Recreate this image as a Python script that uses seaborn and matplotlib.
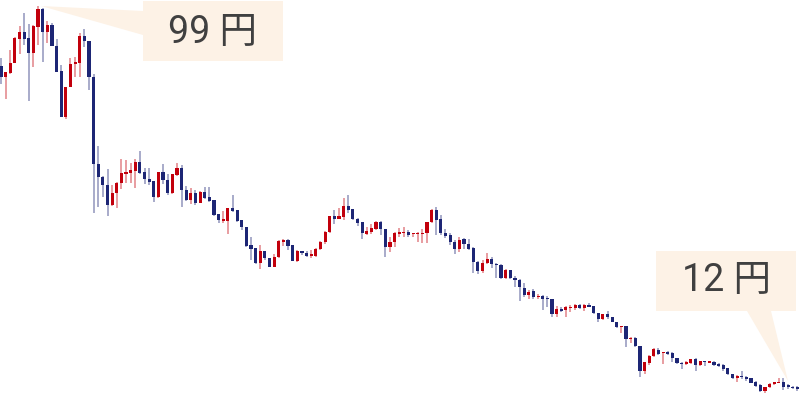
import numpy as np
import pandas as pd
import matplotlib
matplotlib.use("Agg")
import matplotlib.pyplot as plt
import seaborn as sns
from matplotlib.patches import Rectangle, Polygon

# price data (yen), one candle per session
opens = [85.4, 82.9, 83.8, 86.1, 91.5, 93.1, 91.8, 88.3, 94.3, 98.4,
         93.1, 94.7, 89.9, 84.2, 73.8, 80.6, 85.8, 86.1, 92.2, 91.1,
         82.9, 63.1, 60.1, 58.3, 53.8, 56.5, 58.8, 60.8, 61.0, 61.5,
         63.5, 61.3, 59.7, 59.2, 55.6, 61.3, 59.4, 56.5, 60.6, 62.2,
         57.2, 54.9, 56.5, 54.2, 56.7, 55.6, 54.9, 51.7, 50.1, 50.1,
         53.1, 52.6, 50.3, 48.8, 44.7, 44.0, 40.6, 43.3, 41.7, 39.7,
         41.9, 45.3, 45.8, 44.7, 41.0, 43.3, 42.8, 42.2, 42.2, 43.7,
         45.3, 47.6, 51.3, 50.6, 51.0, 53.5, 52.9, 50.6, 49.9, 47.2,
         47.6, 48.3, 49.9, 48.3, 44.2, 45.3, 47.2, 47.4, 47.6, 47.2,
         47.2, 47.2, 47.4, 49.9, 52.6, 50.6, 47.4, 46.9, 45.3, 43.7,
         46.0, 44.9, 44.0, 40.8, 38.7, 40.6, 41.5, 40.3, 40.1, 37.2,
         39.0, 37.2, 36.7, 34.9, 33.3, 34.2, 32.8, 33.1, 32.6, 32.4,
         29.0, 30.1, 29.9, 30.3, 30.3, 31.0, 30.3, 31.0, 30.8, 29.2,
         27.8, 29.0, 28.3, 27.1, 26.0, 26.2, 23.3, 23.5, 21.7, 16.0,
         17.8, 19.4, 20.8, 20.1, 20.3, 20.1, 18.9, 17.8, 17.6, 17.8,
         18.7, 17.4, 18.3, 17.8, 18.0, 17.6, 17.4, 16.7, 15.3, 14.4,
         14.9, 14.6, 14.4, 13.5, 12.8, 11.4, 12.4, 13.0, 13.3, 13.5,
         12.6, 12.4, 12.1]
highs = [87.2, 84.0, 89.0, 92.0, 94.5, 97.4, 94.9, 94.7, 99.0, 98.6,
         95.6, 95.2, 91.5, 85.6, 80.6, 87.2, 87.4, 92.9, 93.8, 91.1,
         83.6, 67.2, 60.4, 62.0, 58.3, 59.0, 64.2, 64.0, 63.3, 64.2,
         66.0, 62.2, 62.2, 59.2, 61.3, 63.1, 60.8, 60.8, 63.3, 62.9,
         58.1, 57.6, 57.2, 56.9, 57.9, 57.9, 54.9, 51.7, 52.4, 53.1,
         56.0, 52.6, 50.3, 48.8, 46.5, 44.0, 44.7, 43.3, 41.7, 42.6,
         45.8, 46.0, 46.0, 44.7, 43.5, 43.3, 43.3, 43.5, 44.0, 45.6,
         47.8, 51.3, 52.6, 53.1, 55.4, 56.0, 52.9, 50.8, 49.9, 48.8,
         49.4, 50.1, 50.1, 48.3, 46.5, 47.6, 48.5, 48.8, 48.1, 47.4,
         47.6, 48.3, 49.9, 52.9, 53.3, 51.5, 48.3, 47.4, 45.8, 46.5,
         46.3, 46.0, 44.2, 41.0, 41.2, 42.8, 41.9, 40.6, 40.3, 39.2,
         39.0, 37.6, 36.9, 36.0, 34.4, 34.7, 33.5, 33.3, 33.1, 32.4,
         30.8, 30.6, 30.8, 31.0, 31.2, 31.2, 31.2, 31.5, 30.8, 29.2,
         29.0, 29.6, 28.3, 27.1, 26.2, 26.2, 23.7, 23.7, 21.7, 18.0,
         19.6, 21.2, 21.2, 20.3, 20.5, 20.3, 18.9, 18.0, 18.3, 18.7,
         18.9, 18.3, 18.3, 18.3, 18.3, 17.8, 17.6, 16.7, 15.3, 15.1,
         16.0, 14.9, 14.4, 13.7, 13.0, 12.4, 13.3, 13.5, 14.4, 14.4,
         13.0, 12.6, 12.6]
lows = [81.3, 77.9, 83.6, 86.1, 88.1, 90.2, 77.4, 85.2, 90.2, 86.3,
        90.6, 89.9, 84.0, 73.8, 73.3, 80.6, 82.9, 82.9, 89.7, 79.9,
        51.9, 53.3, 55.6, 51.3, 53.5, 53.1, 57.4, 58.8, 58.8, 57.6,
        60.8, 58.5, 58.3, 54.4, 55.4, 58.5, 56.0, 56.3, 60.4, 53.3,
        54.7, 54.0, 53.8, 54.2, 55.1, 54.4, 51.3, 49.7, 49.7, 47.2,
        52.2, 49.9, 48.1, 44.2, 41.2, 40.3, 39.2, 41.2, 39.7, 39.7,
        41.7, 44.4, 43.5, 41.0, 40.8, 42.4, 41.9, 41.7, 41.9, 43.5,
        44.9, 47.4, 49.4, 50.6, 50.3, 51.9, 50.3, 49.0, 46.0, 46.9,
        47.2, 48.1, 46.9, 41.9, 43.1, 44.2, 46.5, 46.5, 46.5, 46.5,
        45.3, 45.1, 45.1, 49.7, 46.9, 46.9, 46.3, 44.7, 42.6, 43.1,
        43.7, 43.5, 38.3, 38.1, 38.3, 40.3, 39.4, 37.2, 36.9, 36.9,
        36.9, 35.1, 31.9, 32.8, 32.4, 32.4, 32.4, 29.9, 30.6, 28.3,
        28.3, 29.4, 28.3, 29.4, 29.9, 30.1, 29.6, 30.6, 29.0, 27.1,
        27.6, 27.8, 27.1, 25.8, 24.6, 21.5, 22.4, 21.5, 14.6, 15.3,
        17.4, 19.2, 19.6, 17.6, 19.6, 18.0, 17.6, 16.4, 17.4, 17.6,
        16.0, 17.1, 17.1, 17.8, 17.1, 16.9, 16.0, 15.1, 14.2, 13.5,
        14.2, 13.7, 13.3, 12.4, 11.2, 11.0, 12.1, 12.8, 13.3, 11.7,
        11.9, 11.9, 11.4]
closes = [82.9, 84.0, 86.1, 91.8, 93.1, 91.5, 88.3, 94.5, 98.4, 93.1,
          94.7, 89.9, 84.0, 73.8, 80.6, 85.8, 86.3, 92.2, 91.1, 82.9,
          63.1, 60.1, 58.3, 53.8, 56.5, 58.8, 61.0, 61.3, 61.7, 63.5,
          61.0, 59.7, 59.0, 55.6, 61.3, 59.4, 56.5, 60.8, 62.2, 57.2,
          54.9, 56.5, 54.2, 56.7, 55.4, 54.7, 51.5, 50.3, 50.6, 53.1,
          52.4, 50.1, 48.8, 44.4, 43.7, 40.6, 43.3, 41.7, 39.7, 41.9,
          45.6, 45.8, 44.4, 41.0, 43.3, 42.8, 42.2, 42.6, 43.7, 45.3,
          47.6, 51.3, 50.6, 51.3, 53.5, 52.6, 50.6, 49.7, 47.4, 47.8,
          48.5, 49.9, 48.3, 44.2, 45.3, 47.4, 47.6, 47.6, 46.9, 47.4,
          47.4, 47.4, 49.9, 52.6, 50.3, 47.4, 46.7, 45.3, 43.7, 45.8,
          44.9, 43.7, 40.8, 38.7, 40.6, 41.5, 40.3, 40.1, 37.2, 39.0,
          37.2, 36.7, 35.1, 33.3, 34.0, 32.8, 33.1, 32.4, 32.4, 29.0,
          30.1, 29.6, 30.6, 30.6, 31.0, 30.3, 31.0, 30.6, 29.2, 27.8,
          29.0, 28.3, 27.1, 26.0, 26.2, 23.3, 23.5, 21.7, 16.0, 18.0,
          19.4, 21.0, 19.9, 20.3, 19.9, 18.9, 17.8, 17.6, 18.0, 18.7,
          17.4, 18.3, 18.0, 18.3, 17.4, 17.1, 16.4, 15.3, 14.4, 14.9,
          14.6, 14.2, 13.3, 12.6, 11.4, 12.4, 13.0, 13.5, 13.5, 12.4,
          12.4, 12.1, 12.0]

high_label = "99 円"
last_label = "12 円"

df = pd.DataFrame({"open": opens, "high": highs, "low": lows, "close": closes})
df["idx"] = np.arange(len(df))
df["up"] = df["close"] >= df["open"]

RED = "#c2000c"
NAVY = "#1d2675"
BOX = "#fdf2e6"

sns.set_theme(style="white")
plt.rcParams["font.family"] = ["Roboto", "Noto Sans CJK JP", "DejaVu Sans"]

fig = plt.figure(figsize=(8, 4), dpi=100)
ax = fig.add_axes([0, 0, 1, 1])

# wicks
for up, col in [(True, RED), (False, NAVY)]:
    d = df[df["up"] == up]
    ax.vlines(d["idx"], d["low"], d["high"], color=col, alpha=0.45, lw=1.2, zorder=2)

# bodies
bottom = df[["open", "close"]].min(axis=1)
height = (df["close"] - df["open"]).abs().clip(lower=0.3)
colors = np.where(df["up"], RED, NAVY)
ax.bar(df["idx"], height, bottom=bottom, width=0.68, color=colors, lw=0, zorder=3)

ax.set_xlim(-0.22, 172.57)
ax.set_ylim(9.4, 100.4)
ax.axis("off")

# callouts (pixel coords, origin top-left)
def px(x, y):
    return (x / 800, 1 - y / 400)

def callout(box, tip_pts, text, tx, ty):
    x0, y0, x1, y1 = box
    fig.patches.append(Rectangle(px(x0, y1), (x1 - x0) / 800, (y1 - y0) / 400,
                                 transform=fig.transFigure, color=BOX, lw=0, zorder=1))
    fig.patches.append(Polygon([px(*p) for p in tip_pts], closed=True,
                               transform=fig.transFigure, color=BOX, lw=0, zorder=1))
    fig.text(*px(tx, ty), text, ha="center", va="center", fontsize=27,
             color="#404040")

callout((143, 1, 283, 61), [(143, 11), (143, 35), (41, 6)], high_label, 212, 32)
callout((656, 251, 796, 311), [(747, 311), (771, 311), (788, 381)], last_label, 726, 281)

fig.savefig("out.png", dpi=100)
